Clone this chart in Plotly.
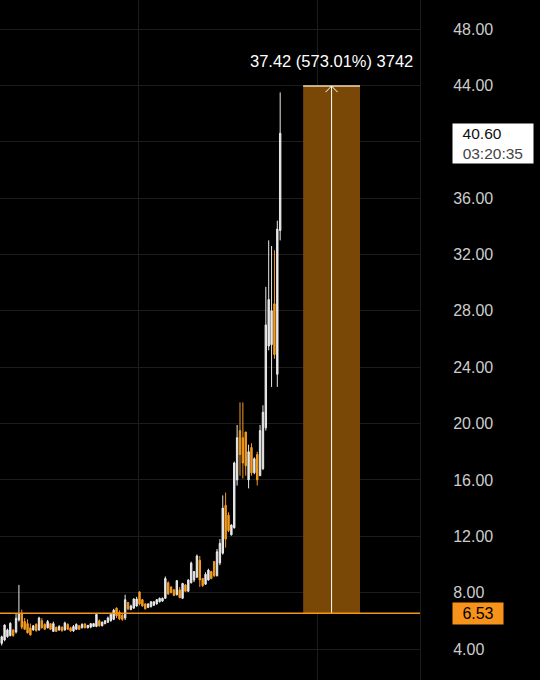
import plotly.graph_objects as go

# ---- data ----
open_ = [4.40, 4.64, 4.87, 4.95, 5.35, 5.20, 6.06, 6.50, 5.95, 5.80,
         5.50, 5.35, 5.75, 5.35, 6.00, 5.75, 5.50, 5.80, 5.25, 5.55,
         5.35, 5.55, 5.35, 5.75, 5.50, 5.28, 5.40, 5.65, 5.50, 5.78,
         5.50, 5.55, 5.60, 5.60, 6.00, 5.65, 5.80, 5.90, 6.00, 6.10,
         6.90, 6.60, 6.40, 6.20, 7.30, 6.80, 6.90, 7.05, 8.05, 7.50,
         7.20, 6.95, 7.00, 7.10, 7.20, 7.35, 7.40, 7.60, 8.70, 8.40,
         8.20, 7.85, 8.20, 7.60, 8.55, 8.10, 8.70, 8.90, 9.10, 10.30,
         9.00, 8.60, 8.90, 9.50, 10.20, 9.20, 10.10, 10.80, 14.20, 13.50,
         12.10, 12.60, 16.00, 19.50, 19.00, 19.40, 16.00, 18.30, 16.50, 17.80,
         16.30, 16.80, 19.70, 25.50, 25.60, 28.50, 23.50, 33.70]
high = [4.95, 5.75, 5.45, 5.90, 5.40, 6.55, 8.55, 6.80, 6.20, 6.10,
        5.80, 5.70, 5.82, 6.29, 6.18, 5.82, 6.06, 5.82, 5.94, 5.58,
        5.70, 5.60, 5.94, 5.82, 5.58, 5.70, 5.82, 5.70, 5.82, 5.82,
        5.70, 5.82, 5.85, 6.55, 6.10, 5.95, 6.05, 6.30, 6.55, 6.85,
        6.95, 6.75, 6.50, 7.85, 7.35, 7.15, 7.60, 7.70, 8.10, 7.55,
        7.25, 7.25, 7.40, 7.40, 7.55, 7.65, 7.65, 9.15, 8.80, 8.45,
        8.25, 8.90, 8.40, 8.70, 8.60, 8.95, 10.20, 9.50, 10.70, 10.60,
        9.05, 9.45, 9.70, 9.55, 10.25, 11.10, 11.80, 14.90, 15.10, 13.70,
        12.85, 17.30, 19.90, 21.50, 21.50, 19.40, 18.50, 18.60, 17.60, 18.00,
        19.90, 21.30, 29.70, 33.00, 32.60, 32.30, 34.40, 43.50]
low = [4.25, 4.55, 4.80, 4.90, 4.87, 5.10, 5.95, 5.40, 5.35, 5.10,
       4.95, 5.30, 5.23, 5.30, 5.47, 5.35, 5.47, 5.35, 5.23, 5.20,
       5.30, 5.22, 5.30, 5.35, 5.22, 5.22, 5.35, 5.35, 5.47, 5.47,
       5.47, 5.47, 5.58, 5.55, 5.58, 5.60, 5.75, 5.85, 5.95, 6.05,
       6.20, 6.05, 6.00, 6.05, 6.75, 6.75, 6.85, 7.00, 7.10, 7.00,
       6.80, 6.90, 6.95, 7.05, 7.15, 7.30, 7.35, 7.55, 7.85, 7.95,
       7.75, 7.80, 7.60, 7.55, 8.05, 8.04, 8.65, 8.75, 9.05, 8.40,
       8.40, 8.55, 8.85, 8.95, 9.10, 9.15, 9.95, 10.70, 11.20, 12.30,
       12.05, 12.55, 15.60, 16.30, 16.10, 16.30, 15.40, 16.30, 16.40, 15.60,
       16.30, 16.70, 19.50, 25.20, 22.60, 24.60, 22.60, 33.00]
close = [4.87, 5.70, 5.35, 5.82, 4.95, 6.18, 6.50, 5.55, 5.40, 5.15,
         5.00, 5.65, 5.30, 6.20, 5.50, 5.40, 5.95, 5.40, 5.80, 5.25,
         5.60, 5.30, 5.85, 5.40, 5.28, 5.60, 5.75, 5.40, 5.75, 5.50,
         5.68, 5.80, 5.80, 6.45, 5.65, 5.90, 6.00, 6.20, 6.45, 6.75,
         6.35, 6.15, 6.10, 7.50, 6.85, 7.05, 7.55, 7.55, 7.20, 7.05,
         6.85, 7.20, 7.35, 7.35, 7.50, 7.60, 7.60, 9.00, 7.90, 8.00,
         7.80, 8.85, 7.65, 8.65, 8.10, 8.90, 10.10, 9.50, 10.60, 8.90,
         8.50, 9.30, 9.60, 9.00, 9.20, 10.90, 11.50, 14.00, 11.80, 12.40,
         12.80, 17.20, 19.00, 17.80, 17.20, 17.00, 18.00, 16.50, 17.50, 16.00,
         19.50, 20.80, 27.00, 28.80, 28.00, 24.90, 33.80, 40.60]

y_ticks = [4, 8, 12, 16, 20, 24, 28, 32, 36, 40, 44, 48]
hidden_ticks = [40]  # covered by the last-price label in the reference
y_tick_text = ["" if v in hidden_ticks else "%.2f" % v for v in y_ticks]

base_price = 6.53
target_price = 43.95
last_price = 40.60
countdown = "03:20:35"
measure_text = "37.42 (573.01%) 3742"

x = list(range(len(close)))

# ---- styling ----
BG = "#000000"
UP = "#e9e9e9"
DOWN = "#f39a1e"
ORANGE = "#f7931a"
GRID = "#1c1c1c"
FONT = "Liberation Sans"

fig = go.Figure()
fig.add_trace(go.Candlestick(
    x=x, open=open_, high=high, low=low, close=close,
    increasing=dict(line=dict(color=UP, width=1), fillcolor=UP),
    decreasing=dict(line=dict(color=DOWN, width=1), fillcolor=DOWN),
    whiskerwidth=0, showlegend=False, hoverinfo="skip",
))

# measurement box
mx0, mx1 = 105.0, 124.8
mxc = (mx0 + mx1) / 2
fig.add_shape(type="rect", x0=mx0, x1=mx1, y0=base_price, y1=target_price,
              xref="x", yref="y", fillcolor="#7a4806", line=dict(width=0), layer="above")
fig.add_shape(type="line", x0=mx0, x1=mx1, y0=target_price, y1=target_price,
              xref="x", yref="y", line=dict(color="#f3d9b0", width=1.5))
fig.add_shape(type="line", x0=mxc, x1=mxc, y0=base_price, y1=target_price,
              xref="x", yref="y", line=dict(color="#ffffff", width=1))
fig.add_shape(type="path",
              path=f"M {mxc-2.1},{target_price-0.43} L {mxc},{target_price} L {mxc+2.1},{target_price-0.43}",
              xref="x", yref="y", line=dict(color="#ffffff", width=1))

# base price line
fig.add_shape(type="line", x0=0, x1=1, xref="paper", y0=base_price, y1=base_price,
              yref="y", line=dict(color=ORANGE, width=1.5))

fig.add_annotation(x=mxc, y=target_price, xref="x", yref="y", text=measure_text,
                   showarrow=False, yanchor="bottom", yshift=14,
                   font=dict(family=FONT, size=16.5, color="#ffffff"))

fig.add_annotation(x=1, y=base_price, xref="paper", yref="y", text="6.53",
                   showarrow=False, xanchor="left", xshift=32,
                   bgcolor=ORANGE, borderpad=2, width=46, align="center",
                   font=dict(family=FONT, size=16, color="#000000"))

fig.add_annotation(x=1, y=last_price, xref="paper", yref="y",
                   text="&nbsp;&nbsp;40.60<br>&nbsp;&nbsp;<span style='color:#444444'>" + countdown + "</span>",
                   showarrow=False, xanchor="left", xshift=32, yanchor="top", yshift=10,
                   align="left", bgcolor="#ffffff", borderpad=1, width=78,
                   font=dict(family=FONT, size=15.5, color="#111111"))

fig.update_layout(
    width=540, height=680,
    paper_bgcolor=BG, plot_bgcolor=BG,
    margin=dict(l=0, r=120, t=0, b=0),
    xaxis=dict(range=[-0.59, 145.7], rangeslider=dict(visible=False),
               showticklabels=False, tickvals=[47.8, 109.9], showgrid=True,
               gridcolor=GRID, zeroline=False, showline=False),
    yaxis=dict(side="right", range=[1.80, 50.06], tickvals=y_ticks, ticktext=y_tick_text,
               showgrid=True, gridcolor=GRID, zeroline=False, showline=True,
               linecolor=GRID, ticks="", ticklabelstandoff=29,
               tickfont=dict(family=FONT, size=16, color="#cccccc")),
)

fig.write_html("out.html", config={"displayModeBar": False},
               post_script="document.body.style.margin='0px';")
